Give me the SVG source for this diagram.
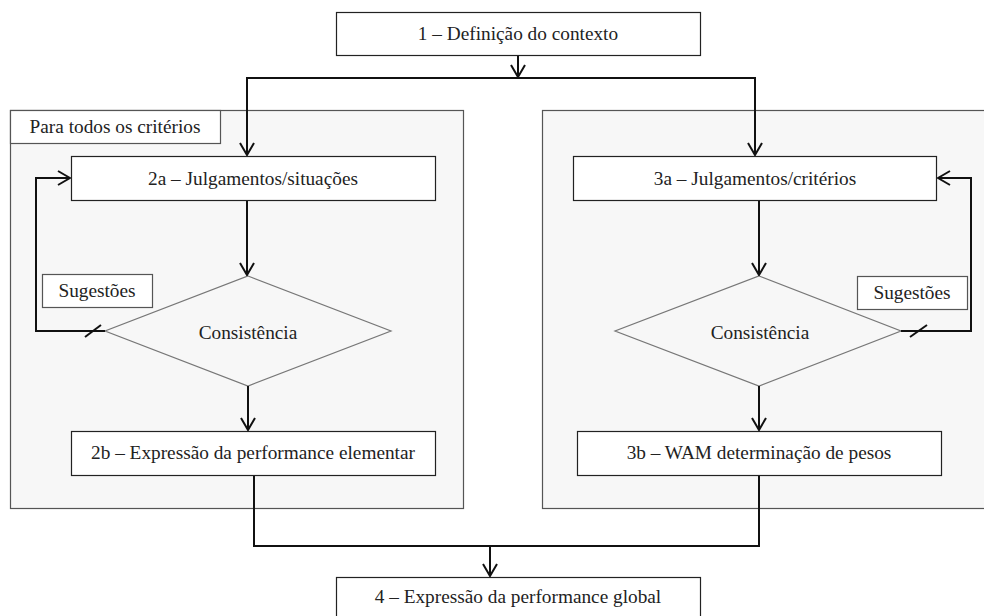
<svg xmlns="http://www.w3.org/2000/svg" width="984" height="616" viewBox="0 0 984 616">
<defs>
<style>
.panel{fill:#f7f7f7;stroke:#555;stroke-width:1.2}
.box{fill:#fff;stroke:#222;stroke-width:1.2}
.lbl{fill:#fff;stroke:#555;stroke-width:1.2}
.dia{fill:none;stroke:#777;stroke-width:1.2}
text{font-family:'Liberation Serif','Times New Roman',serif;font-size:19.3px;fill:#222;text-anchor:middle}
.c{fill:none;stroke:#111;stroke-width:2}
.tick{stroke:#111;stroke-width:2}
</style>
<marker id="arr" viewBox="0 0 14 16" refX="13" refY="8" markerWidth="14" markerHeight="16" markerUnits="userSpaceOnUse" orient="auto">
<path d="M1,1 L13,8 L1,15" fill="none" stroke="#111" stroke-width="2"/>
</marker>
</defs>
<rect width="984" height="616" fill="#fff"/>
<g id="panel-left">
<rect class="panel" x="10.5" y="110.5" width="453" height="398"/>
<rect class="lbl" x="10.5" y="110.5" width="210" height="33"/>
<text x="115" y="133">Para todos os critérios</text>
</g>
<g id="panel-right">
<rect class="panel" x="542.5" y="110.5" width="460" height="398"/>
</g>
<g id="n1">
<rect class="box" x="336.5" y="12.5" width="364" height="43"/>
<text x="518" y="40">1 – Definição do contexto</text>
</g>
<g id="n2a">
<rect class="box" x="71.5" y="156.5" width="364" height="44"/>
<text x="253" y="185">2a – Julgamentos/situações</text>
</g>
<g id="n2c">
<polygon class="dia" points="248,276 391,331 248,386 105,331"/>
<text x="248" y="339">Consistência</text>
</g>
<g id="s2">
<rect class="lbl" x="42.5" y="274.5" width="110" height="33"/>
<text x="97" y="297">Sugestões</text>
</g>
<g id="n2b">
<rect class="box" x="71.5" y="431.5" width="364" height="44"/>
<text x="253" y="459">2b – Expressão da performance elementar</text>
</g>
<g id="n3a">
<rect class="box" x="573.5" y="156.5" width="363" height="44"/>
<text x="755" y="185">3a – Julgamentos/critérios</text>
</g>
<g id="n3c">
<polygon class="dia" points="759,276 901,331 759,386 615,331"/>
<text x="760" y="339">Consistência</text>
</g>
<g id="s3">
<rect class="lbl" x="857.5" y="276.5" width="110" height="33"/>
<text x="912" y="299">Sugestões</text>
</g>
<g id="n3b">
<rect class="box" x="577.5" y="431.5" width="364" height="44"/>
<text x="759" y="459">3b – WAM determinação de pesos</text>
</g>
<g id="n4">
<rect class="box" x="336.5" y="577.5" width="364" height="50"/>
<text x="518" y="603">4 – Expressão da performance global</text>
</g>
<g id="connectors">
<path class="c" d="M518,56 V77" marker-end="url(#arr)"/>
<path class="c" d="M247,155 V78 H755 V155" marker-end="url(#arr)"/>
<path class="c" d="M247,78 V155" marker-end="url(#arr)"/>
<path class="c" d="M247,201 V275" marker-end="url(#arr)"/>
<path class="c" d="M248,386 V430" marker-end="url(#arr)"/>
<path class="c" d="M105,331 H36 V178 H70" marker-end="url(#arr)"/>
<line class="tick" x1="85" y1="337" x2="101" y2="325"/>
<path class="c" d="M759,201 V275" marker-end="url(#arr)"/>
<path class="c" d="M759,386 V430" marker-end="url(#arr)"/>
<path class="c" d="M901,331 H971 V178 H938" marker-end="url(#arr)"/>
<line class="tick" x1="910" y1="337" x2="927" y2="325"/>
<path class="c" d="M254,476 V546 H759 V476"/>
<path class="c" d="M490,546 V576" marker-end="url(#arr)"/>
</g>
</svg>
